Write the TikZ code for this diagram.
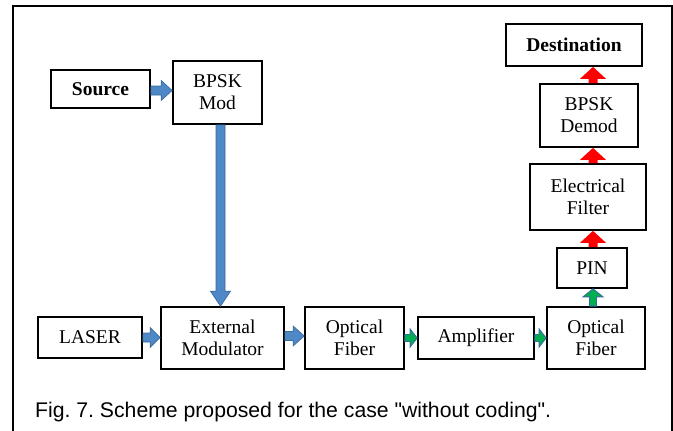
\documentclass[tikz,border=0pt]{standalone}
\usepackage{fontspec}
\setmainfont{Liberation Serif}
\newfontfamily\capfont{Liberation Sans}
\usetikzlibrary{calc}
\frenchspacing
\definecolor{arrblue}{HTML}{4F88C6}
\definecolor{arrbluedark}{HTML}{3A6A9E}
\definecolor{arrgreen}{HTML}{00B050}
\definecolor{arrred}{HTML}{FF0000}
\newcommand\blkright[6]{%
  \path[#6] let \p1=(#1), \p2=(#2) in
    (\x1,\y1+#3) -- (\x2-#5,\y1+#3) -- (\x2-#5,\y1+#4) -- (\x2,\y1)
    -- (\x2-#5,\y1-#4) -- (\x2-#5,\y1-#3) -- (\x1,\y1-#3) -- cycle;}
\newcommand\blkup[6]{%
  \path[#6] let \p1=(#1), \p2=(#2) in
    (\x1+#3,\y1) -- (\x1+#3,\y2-#5) -- (\x1+#4,\y2-#5) -- (\x1,\y2)
    -- (\x1-#4,\y2-#5) -- (\x1-#3,\y2-#5) -- (\x1-#3,\y1) -- cycle;}
\newcommand\blkdown[6]{%
  \path[#6] let \p1=(#1), \p2=(#2) in
    (\x1+#3,\y1) -- (\x1+#3,\y2+#5) -- (\x1+#4,\y2+#5) -- (\x1,\y2)
    -- (\x1-#4,\y2+#5) -- (\x1-#3,\y2+#5) -- (\x1-#3,\y1) -- cycle;}
\begin{document}
\begin{tikzpicture}[x=1pt,y=-1pt,
  box/.style={draw=black, line width=1.7pt, fill=white, inner sep=0pt, align=center,
    font=\fontsize{19.5}{22}\selectfont},
  bluearr/.style={fill=arrblue, draw=arrbluedark, line width=0.7pt},
  greenarr/.style={fill=arrgreen, draw=arrbluedark, line width=0.9pt},
  redarr/.style={fill=arrred}]
\useasboundingbox (0,0) rectangle (673,431);
\draw[line width=1.5pt] (13,431) -- (13,6) -- (672,6) -- (672,431);
% boxes
\node[box, minimum width=99pt, minimum height=38pt, font=\fontsize{19.5}{22}\selectfont\bfseries] (src) at (100.5,89) {Source};
\node[box, minimum width=89pt, minimum height=63pt] (bpsk) at (217.5,92.5) {BPSK\\Mod};
\node[box, minimum width=104pt, minimum height=41pt] (laser) at (90,337.5) {LASER};
\node[box, minimum width=123pt, minimum height=62pt] (ext) at (222.5,338) {External\\Modulator};
\node[box, minimum width=99pt, minimum height=62pt] (of1) at (354.5,338) {Optical\\Fiber};
\node[box, minimum width=116pt, minimum height=42pt] (amp) at (476,338) {Amplifier};
\node[box, minimum width=98pt, minimum height=62pt] (of2) at (596,338) {Optical\\Fiber};
\node[box, minimum width=70pt, minimum height=40pt] (pin) at (592,268) {PIN};
\node[box, minimum width=116pt, minimum height=66pt] (filt) at (588,197) {Electrical\\Filter};
\node[box, minimum width=98pt, minimum height=63pt] (demod) at (589,115.5) {BPSK\\Demod};
\node[box, minimum width=136pt, minimum height=42pt, font=\fontsize{19.5}{22}\selectfont\bfseries] (dest) at (574,45) {Destination};
% arrows
\blkright{$(src.east)+(0,1.5)$}{bpsk.west}{4.5pt}{10pt}{11pt}{bluearr}
\blkdown{$(bpsk.south)+(3,0)$}{ext.north}{4.5pt}{10pt}{15pt}{bluearr}
\blkright{laser.east}{ext.west}{4.5pt}{10pt}{10pt}{bluearr}
\blkright{$(ext.east)+(0,-2)$}{of1.west}{4.5pt}{10pt}{11pt}{bluearr}
\blkright{of1.east}{amp.west}{3.5pt}{9pt}{7pt}{greenarr}
\blkright{amp.east}{of2.west}{3.5pt}{9pt}{7pt}{greenarr}
\blkup{$(of2.north)+(-3,0)$}{pin.south}{3.5pt}{10pt}{8pt}{greenarr}
\blkup{$(pin.north)+(1,0)$}{filt.south}{4.5pt}{13pt}{12pt}{redarr}
\blkup{$(filt.north)+(5,0)$}{demod.south}{4.5pt}{13pt}{12pt}{redarr}
\blkup{$(demod.north)+(4,0)$}{dest.south}{4.5pt}{13pt}{12pt}{redarr}
% caption
\node[anchor=base west, inner sep=0pt, font=\capfont\fontsize{21.2}{24}\selectfont] (cap) at (35,417) {Fig. 7. Scheme proposed for the case "without coding".};
\end{tikzpicture}
\end{document}
